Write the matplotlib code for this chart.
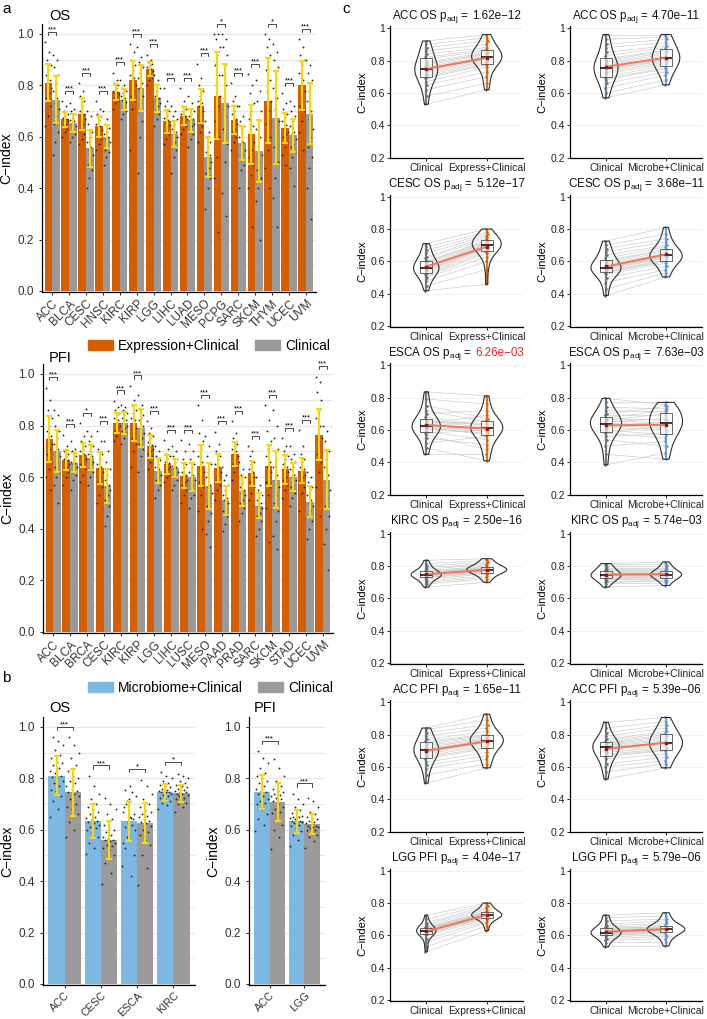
import numpy as np
import matplotlib
matplotlib.use("Agg")
import matplotlib.pyplot as plt
from matplotlib.patches import Patch
from matplotlib.offsetbox import TextArea, HPacker, AnchoredOffsetbox

plt.rcParams["font.family"] = ["Liberation Sans", "DejaVu Sans"]
plt.rcParams["mathtext.fontset"] = "custom"
plt.rcParams["mathtext.rm"] = "Liberation Sans"
plt.rcParams["mathtext.it"] = "Liberation Sans:italic"

# ---- Panel a: OS (expression + clinical vs clinical) ----
OS_CANCERS = ["ACC", "BLCA", "CESC", "HNSC", "KIRC", "KIRP", "LGG", "LIHC",
              "LUAD", "MESO", "PCPG", "SARC", "SKCM", "THYM", "UCEC", "UVM"]
OS_EXPR_MEAN = [0.81, 0.668, 0.69, 0.64, 0.775, 0.82, 0.865, 0.66,
                0.68, 0.72, 0.76, 0.665, 0.61, 0.74, 0.635, 0.80]
OS_EXPR_SD = [0.072, 0.03, 0.062, 0.042, 0.032, 0.075, 0.027, 0.045,
              0.035, 0.065, 0.17, 0.053, 0.115, 0.165, 0.058, 0.095]
OS_CLIN_MEAN = [0.745, 0.655, 0.555, 0.60, 0.745, 0.79, 0.75, 0.61,
                0.665, 0.52, 0.73, 0.575, 0.545, 0.675, 0.605, 0.69]
OS_CLIN_SD = [0.09, 0.035, 0.072, 0.045, 0.042, 0.09, 0.052, 0.05,
              0.045, 0.078, 0.155, 0.065, 0.12, 0.18, 0.065, 0.12]
OS_SIG = ["***", "***", "***", "***", "***", "***", "***", "***",
          "***", "***", "*", "***", "***", "*", "***", "***"]
# per-cancer C-index of repeated runs (subset)
OS_EXPR_RUNS = [
    [0.967, 0.93, 0.90, 0.88, 0.86, 0.84, 0.82, 0.81, 0.79, 0.77, 0.75, 0.72, 0.68, 0.64],
    [0.74, 0.72, 0.70, 0.69, 0.68, 0.675, 0.67, 0.665, 0.66, 0.65, 0.64, 0.63, 0.62, 0.60],
    [0.81, 0.78, 0.76, 0.74, 0.72, 0.70, 0.69, 0.68, 0.67, 0.65, 0.63, 0.61, 0.59, 0.57],
    [0.74, 0.71, 0.69, 0.68, 0.665, 0.65, 0.64, 0.635, 0.625, 0.61, 0.60, 0.59, 0.57, 0.55],
    [0.85, 0.82, 0.81, 0.80, 0.79, 0.78, 0.775, 0.77, 0.765, 0.76, 0.75, 0.74, 0.73, 0.71],
    [0.96, 0.93, 0.90, 0.88, 0.86, 0.84, 0.83, 0.82, 0.80, 0.78, 0.76, 0.74, 0.71, 0.55],
    [0.92, 0.90, 0.89, 0.885, 0.88, 0.87, 0.865, 0.86, 0.855, 0.85, 0.84, 0.83, 0.82, 0.80],
    [0.79, 0.74, 0.72, 0.70, 0.69, 0.675, 0.665, 0.655, 0.645, 0.63, 0.62, 0.61, 0.59, 0.57],
    [0.79, 0.74, 0.72, 0.71, 0.70, 0.69, 0.68, 0.675, 0.67, 0.66, 0.65, 0.64, 0.63, 0.61],
    [0.885, 0.83, 0.80, 0.78, 0.76, 0.74, 0.73, 0.72, 0.70, 0.68, 0.66, 0.64, 0.62, 0.58],
    [1.0, 1.0, 0.98, 0.95, 0.92, 0.88, 0.84, 0.80, 0.76, 0.72, 0.66, 0.60, 0.52, 0.44, 0.23],
    [0.81, 0.76, 0.74, 0.72, 0.70, 0.69, 0.67, 0.66, 0.65, 0.63, 0.62, 0.60, 0.58, 0.55],
    [0.845, 0.80, 0.77, 0.73, 0.70, 0.67, 0.64, 0.61, 0.58, 0.55, 0.52, 0.49, 0.45, 0.40, 0.25],
    [1.0, 0.98, 0.95, 0.92, 0.89, 0.86, 0.82, 0.78, 0.74, 0.70, 0.65, 0.60, 0.55, 0.48, 0.40],
    [0.77, 0.73, 0.71, 0.69, 0.68, 0.66, 0.645, 0.635, 0.62, 0.61, 0.60, 0.58, 0.56, 0.53, 0.49],
    [0.98, 0.95, 0.92, 0.90, 0.88, 0.85, 0.82, 0.80, 0.78, 0.75, 0.72, 0.70, 0.66, 0.62, 0.55],
]
OS_CLIN_RUNS = [
    [0.92, 0.90, 0.87, 0.84, 0.81, 0.78, 0.75, 0.73, 0.71, 0.68, 0.65, 0.62, 0.58, 0.53],
    [0.73, 0.71, 0.70, 0.69, 0.675, 0.665, 0.66, 0.65, 0.64, 0.63, 0.62, 0.61, 0.60, 0.58],
    [0.70, 0.68, 0.65, 0.62, 0.60, 0.58, 0.56, 0.55, 0.53, 0.51, 0.49, 0.47, 0.44, 0.40],
    [0.70, 0.67, 0.65, 0.635, 0.62, 0.61, 0.60, 0.59, 0.58, 0.565, 0.55, 0.54, 0.52, 0.49],
    [0.82, 0.80, 0.79, 0.78, 0.77, 0.76, 0.75, 0.745, 0.735, 0.72, 0.71, 0.70, 0.69, 0.67],
    [0.95, 0.91, 0.89, 0.87, 0.85, 0.83, 0.81, 0.79, 0.76, 0.73, 0.70, 0.66, 0.60, 0.46],
    [0.84, 0.82, 0.80, 0.79, 0.78, 0.76, 0.75, 0.74, 0.73, 0.72, 0.70, 0.69, 0.67, 0.64],
    [0.72, 0.70, 0.68, 0.67, 0.65, 0.63, 0.62, 0.61, 0.60, 0.58, 0.56, 0.55, 0.52, 0.46],
    [0.76, 0.73, 0.71, 0.70, 0.69, 0.68, 0.67, 0.66, 0.65, 0.64, 0.62, 0.61, 0.59, 0.56],
    [0.66, 0.62, 0.60, 0.58, 0.56, 0.54, 0.53, 0.52, 0.50, 0.48, 0.46, 0.44, 0.40, 0.32],
    [1.0, 0.98, 0.95, 0.92, 0.88, 0.84, 0.80, 0.75, 0.72, 0.68, 0.63, 0.57, 0.50, 0.38, 0.29],
    [0.72, 0.68, 0.66, 0.64, 0.62, 0.60, 0.58, 0.57, 0.55, 0.53, 0.51, 0.49, 0.47, 0.40],
    [0.82, 0.78, 0.74, 0.70, 0.66, 0.63, 0.60, 0.56, 0.53, 0.50, 0.47, 0.44, 0.40, 0.35, 0.20],
    [0.96, 0.93, 0.90, 0.87, 0.83, 0.79, 0.75, 0.71, 0.66, 0.61, 0.56, 0.50, 0.44, 0.36, 0.25],
    [0.74, 0.72, 0.70, 0.68, 0.66, 0.64, 0.62, 0.61, 0.59, 0.57, 0.56, 0.54, 0.52, 0.48, 0.41],
    [0.90, 0.88, 0.85, 0.82, 0.78, 0.74, 0.70, 0.67, 0.63, 0.60, 0.56, 0.52, 0.48, 0.40, 0.28],
]

# ---- Panel a: PFI ----
PFI_CANCERS = ["ACC", "BLCA", "BRCA", "CESC", "KIRC", "KIRP", "LGG", "LIHC", "LUSC",
               "MESO", "PAAD", "PRAD", "SARC", "SKCM", "STAD", "UCEC", "UVM"]
PFI_EXPR_MEAN = [0.748, 0.665, 0.685, 0.635, 0.81, 0.81, 0.72, 0.65, 0.605,
                 0.645, 0.635, 0.69, 0.615, 0.645, 0.63, 0.625, 0.765]
PFI_EXPR_SD = [0.09, 0.039, 0.046, 0.062, 0.039, 0.07, 0.044, 0.036, 0.048,
               0.08, 0.053, 0.046, 0.049, 0.078, 0.056, 0.049, 0.10]
PFI_CLIN_MEAN = [0.70, 0.655, 0.675, 0.565, 0.81, 0.79, 0.625, 0.635, 0.60,
                 0.565, 0.51, 0.545, 0.49, 0.59, 0.60, 0.505, 0.59]
PFI_CLIN_SD = [0.082, 0.037, 0.049, 0.066, 0.042, 0.073, 0.049, 0.036, 0.055,
               0.088, 0.055, 0.055, 0.048, 0.11, 0.053, 0.06, 0.115]
PFI_SIG = ["***", "***", "*", "***", "***", "***", "***", "***", "***",
           "***", "***", "***", "***", "***", "***", "***", "***"]
PFI_EXPR_RUNS = [
    [0.947, 0.90, 0.86, 0.83, 0.80, 0.78, 0.76, 0.75, 0.73, 0.71, 0.69, 0.66, 0.63, 0.60, 0.55],
    [0.765, 0.72, 0.70, 0.69, 0.68, 0.67, 0.665, 0.66, 0.65, 0.64, 0.63, 0.62, 0.60, 0.57],
    [0.81, 0.76, 0.74, 0.72, 0.71, 0.70, 0.69, 0.68, 0.67, 0.66, 0.65, 0.63, 0.61, 0.58],
    [0.778, 0.74, 0.71, 0.69, 0.67, 0.65, 0.64, 0.63, 0.62, 0.60, 0.58, 0.56, 0.53, 0.50],
    [0.896, 0.87, 0.86, 0.85, 0.84, 0.83, 0.82, 0.81, 0.80, 0.79, 0.78, 0.77, 0.76, 0.74],
    [0.954, 0.90, 0.88, 0.86, 0.85, 0.83, 0.82, 0.81, 0.79, 0.77, 0.75, 0.73, 0.70, 0.64],
    [0.817, 0.79, 0.77, 0.76, 0.75, 0.735, 0.725, 0.72, 0.71, 0.70, 0.69, 0.68, 0.66, 0.63],
    [0.743, 0.71, 0.69, 0.68, 0.67, 0.66, 0.655, 0.65, 0.64, 0.63, 0.62, 0.61, 0.60, 0.58],
    [0.743, 0.70, 0.67, 0.65, 0.64, 0.62, 0.61, 0.60, 0.59, 0.58, 0.57, 0.55, 0.53, 0.50],
    [0.88, 0.82, 0.77, 0.74, 0.71, 0.68, 0.66, 0.64, 0.62, 0.60, 0.58, 0.56, 0.53, 0.47, 0.40],
    [0.776, 0.73, 0.70, 0.68, 0.67, 0.65, 0.64, 0.63, 0.62, 0.61, 0.59, 0.57, 0.55, 0.51],
    [0.817, 0.77, 0.75, 0.73, 0.72, 0.71, 0.70, 0.69, 0.68, 0.67, 0.65, 0.64, 0.62, 0.59],
    [0.721, 0.70, 0.68, 0.66, 0.65, 0.63, 0.62, 0.61, 0.60, 0.59, 0.58, 0.56, 0.54, 0.51],
    [0.88, 0.82, 0.78, 0.74, 0.71, 0.68, 0.66, 0.64, 0.62, 0.60, 0.58, 0.56, 0.53, 0.48, 0.35],
    [0.75, 0.72, 0.70, 0.68, 0.67, 0.65, 0.64, 0.63, 0.62, 0.60, 0.59, 0.57, 0.55, 0.52],
    [0.782, 0.72, 0.69, 0.67, 0.66, 0.64, 0.63, 0.62, 0.61, 0.60, 0.58, 0.56, 0.54, 0.47],
    [0.99, 0.97, 0.93, 0.90, 0.86, 0.83, 0.80, 0.77, 0.75, 0.72, 0.69, 0.66, 0.62, 0.56, 0.45],
]
PFI_CLIN_RUNS = [
    [0.86, 0.84, 0.80, 0.78, 0.75, 0.73, 0.71, 0.70, 0.68, 0.66, 0.64, 0.62, 0.60, 0.57, 0.50],
    [0.74, 0.71, 0.70, 0.68, 0.67, 0.66, 0.655, 0.65, 0.64, 0.63, 0.62, 0.61, 0.59, 0.55],
    [0.78, 0.76, 0.74, 0.72, 0.70, 0.69, 0.68, 0.67, 0.66, 0.65, 0.63, 0.62, 0.60, 0.57],
    [0.74, 0.70, 0.66, 0.63, 0.61, 0.59, 0.57, 0.56, 0.55, 0.53, 0.51, 0.49, 0.45, 0.41],
    [0.88, 0.87, 0.86, 0.85, 0.84, 0.83, 0.82, 0.81, 0.80, 0.79, 0.78, 0.77, 0.75, 0.73],
    [0.92, 0.88, 0.86, 0.84, 0.83, 0.82, 0.80, 0.79, 0.77, 0.75, 0.73, 0.71, 0.68, 0.62],
    [0.72, 0.70, 0.68, 0.665, 0.65, 0.64, 0.63, 0.62, 0.61, 0.60, 0.59, 0.57, 0.55, 0.52],
    [0.72, 0.70, 0.68, 0.67, 0.66, 0.645, 0.64, 0.635, 0.62, 0.61, 0.60, 0.59, 0.57, 0.55],
    [0.73, 0.70, 0.67, 0.65, 0.64, 0.62, 0.61, 0.60, 0.59, 0.57, 0.55, 0.53, 0.52, 0.48],
    [0.76, 0.72, 0.68, 0.65, 0.62, 0.60, 0.57, 0.56, 0.54, 0.52, 0.49, 0.46, 0.43, 0.38, 0.33],
    [0.64, 0.61, 0.59, 0.57, 0.55, 0.53, 0.52, 0.51, 0.50, 0.48, 0.47, 0.45, 0.42, 0.39],
    [0.66, 0.63, 0.61, 0.60, 0.58, 0.56, 0.55, 0.54, 0.53, 0.51, 0.50, 0.48, 0.46, 0.43],
    [0.60, 0.57, 0.55, 0.53, 0.52, 0.51, 0.50, 0.49, 0.48, 0.46, 0.45, 0.43, 0.40, 0.37],
    [0.86, 0.80, 0.75, 0.71, 0.67, 0.64, 0.61, 0.59, 0.56, 0.53, 0.50, 0.47, 0.43, 0.37, 0.32],
    [0.72, 0.69, 0.67, 0.66, 0.64, 0.63, 0.61, 0.60, 0.59, 0.57, 0.56, 0.54, 0.52, 0.49],
    [0.62, 0.60, 0.58, 0.56, 0.55, 0.53, 0.51, 0.50, 0.49, 0.47, 0.45, 0.43, 0.40, 0.36],
    [0.80, 0.78, 0.74, 0.70, 0.67, 0.64, 0.61, 0.58, 0.55, 0.52, 0.49, 0.45, 0.40, 0.34, 0.24],
]

# ---- Panel c: paired C-index per run (clinical vs model) ----
C_ACC_OS_CLIN_E = [0.53, 0.58, 0.62, 0.65, 0.67, 0.69, 0.70, 0.71, 0.72, 0.73, 0.74, 0.74,
                   0.75, 0.76, 0.77, 0.78, 0.79, 0.81, 0.82, 0.84, 0.86, 0.88, 0.90, 0.92]
C_ACC_OS_EXPR = [0.62, 0.66, 0.70, 0.73, 0.76, 0.775, 0.78, 0.79, 0.80, 0.81, 0.815, 0.82,
                 0.825, 0.83, 0.84, 0.845, 0.85, 0.86, 0.87, 0.88, 0.90, 0.92, 0.94, 0.96]
C_ACC_OS_CLIN_M = [0.57, 0.60, 0.63, 0.66, 0.68, 0.69, 0.70, 0.72, 0.73, 0.74, 0.745, 0.75,
                   0.76, 0.77, 0.78, 0.79, 0.80, 0.81, 0.83, 0.85, 0.88, 0.90, 0.93, 0.96]
C_ACC_OS_MIC = [0.65, 0.68, 0.71, 0.73, 0.75, 0.755, 0.77, 0.78, 0.79, 0.80, 0.805, 0.81,
                0.82, 0.83, 0.84, 0.85, 0.86, 0.865, 0.88, 0.89, 0.91, 0.93, 0.945, 0.96]
C_CESC_OS_CLIN_E = [0.42, 0.45, 0.48, 0.50, 0.51, 0.52, 0.53, 0.54, 0.545, 0.55, 0.56, 0.56,
                    0.565, 0.57, 0.58, 0.59, 0.60, 0.60, 0.62, 0.63, 0.65, 0.67, 0.69, 0.71]
C_CESC_OS_EXPR = [0.46, 0.55, 0.60, 0.63, 0.65, 0.66, 0.67, 0.68, 0.685, 0.69, 0.70, 0.70,
                  0.705, 0.71, 0.715, 0.72, 0.725, 0.73, 0.74, 0.75, 0.76, 0.77, 0.78, 0.80]
C_CESC_OS_CLIN_M = [0.39, 0.43, 0.47, 0.50, 0.52, 0.53, 0.535, 0.54, 0.55, 0.555, 0.56, 0.56,
                    0.565, 0.57, 0.58, 0.59, 0.60, 0.605, 0.62, 0.64, 0.66, 0.68, 0.70, 0.725]
C_CESC_OS_MIC = [0.505, 0.53, 0.55, 0.57, 0.59, 0.60, 0.605, 0.61, 0.62, 0.625, 0.63, 0.635,
                 0.64, 0.645, 0.65, 0.66, 0.67, 0.675, 0.69, 0.70, 0.72, 0.74, 0.77, 0.81]
C_ESCA_OS_CLIN_E = [0.45, 0.49, 0.52, 0.55, 0.57, 0.58, 0.59, 0.60, 0.61, 0.615, 0.62, 0.62,
                    0.625, 0.63, 0.64, 0.65, 0.655, 0.66, 0.68, 0.70, 0.72, 0.75, 0.79, 0.835]
C_ESCA_OS_EXPR = [0.45, 0.41, 0.56, 0.51, 0.48, 0.60, 0.54, 0.62, 0.58, 0.57, 0.66, 0.59,
                  0.61, 0.605, 0.69, 0.64, 0.615, 0.63, 0.625, 0.72, 0.65, 0.67, 0.76, 0.81]
C_ESCA_OS_CLIN_M = [0.385, 0.45, 0.50, 0.54, 0.56, 0.58, 0.59, 0.60, 0.615, 0.625, 0.63, 0.635,
                    0.64, 0.65, 0.655, 0.66, 0.67, 0.675, 0.69, 0.70, 0.72, 0.74, 0.77, 0.795]
C_ESCA_OS_MIC = [0.46, 0.42, 0.53, 0.50, 0.58, 0.55, 0.62, 0.57, 0.60, 0.65, 0.61, 0.64,
                 0.63, 0.67, 0.645, 0.70, 0.66, 0.72, 0.69, 0.745, 0.71, 0.73, 0.77, 0.755]
C_KIRC_OS_CLIN_E = [0.67, 0.69, 0.70, 0.71, 0.72, 0.73, 0.73, 0.735, 0.74, 0.74, 0.745, 0.745,
                    0.75, 0.75, 0.755, 0.76, 0.76, 0.765, 0.77, 0.78, 0.79, 0.80, 0.815, 0.835]
C_KIRC_OS_EXPR = [0.70, 0.72, 0.73, 0.74, 0.75, 0.755, 0.76, 0.765, 0.77, 0.77, 0.775, 0.775,
                  0.78, 0.78, 0.785, 0.79, 0.79, 0.795, 0.80, 0.81, 0.815, 0.825, 0.835, 0.845]
C_KIRC_OS_CLIN_M = [0.67, 0.69, 0.70, 0.705, 0.715, 0.72, 0.725, 0.73, 0.735, 0.74, 0.74, 0.745,
                    0.745, 0.75, 0.755, 0.76, 0.765, 0.77, 0.775, 0.78, 0.79, 0.80, 0.81, 0.815]
C_KIRC_OS_MIC = [0.68, 0.695, 0.705, 0.71, 0.72, 0.725, 0.73, 0.735, 0.74, 0.745, 0.745, 0.745,
                 0.75, 0.75, 0.755, 0.76, 0.765, 0.77, 0.775, 0.78, 0.79, 0.80, 0.81, 0.825]
C_ACC_PFI_CLIN_E = [0.50, 0.55, 0.59, 0.61, 0.63, 0.65, 0.66, 0.67, 0.68, 0.69, 0.695, 0.70,
                    0.705, 0.71, 0.72, 0.73, 0.74, 0.75, 0.76, 0.77, 0.79, 0.81, 0.83, 0.84]
C_ACC_PFI_EXPR = [0.595, 0.62, 0.65, 0.67, 0.69, 0.715, 0.72, 0.73, 0.74, 0.75, 0.755, 0.76,
                  0.765, 0.77, 0.775, 0.78, 0.79, 0.795, 0.80, 0.82, 0.84, 0.86, 0.89, 0.925]
C_ACC_PFI_CLIN_M = [0.525, 0.57, 0.60, 0.62, 0.65, 0.665, 0.67, 0.68, 0.69, 0.70, 0.71, 0.72,
                    0.725, 0.73, 0.735, 0.74, 0.745, 0.75, 0.76, 0.77, 0.79, 0.81, 0.84, 0.875]
C_ACC_PFI_MIC = [0.595, 0.62, 0.64, 0.66, 0.68, 0.70, 0.705, 0.71, 0.72, 0.73, 0.74, 0.745,
                 0.75, 0.76, 0.77, 0.78, 0.79, 0.80, 0.81, 0.82, 0.84, 0.86, 0.88, 0.905]
C_LGG_PFI_CLIN_E = [0.50, 0.53, 0.56, 0.58, 0.60, 0.61, 0.61, 0.615, 0.62, 0.62, 0.625, 0.625,
                    0.63, 0.63, 0.635, 0.64, 0.64, 0.645, 0.65, 0.66, 0.67, 0.68, 0.70, 0.725]
C_LGG_PFI_EXPR = [0.63, 0.66, 0.68, 0.69, 0.70, 0.71, 0.71, 0.715, 0.72, 0.72, 0.725, 0.725,
                  0.73, 0.73, 0.735, 0.74, 0.74, 0.745, 0.75, 0.76, 0.77, 0.78, 0.79, 0.80]
C_LGG_PFI_CLIN_M = [0.53, 0.555, 0.57, 0.58, 0.59, 0.60, 0.60, 0.605, 0.61, 0.61, 0.615, 0.615,
                    0.62, 0.625, 0.63, 0.635, 0.64, 0.645, 0.65, 0.66, 0.67, 0.69, 0.71, 0.725]
C_LGG_PFI_MIC = [0.535, 0.56, 0.58, 0.595, 0.605, 0.615, 0.62, 0.625, 0.63, 0.63, 0.635, 0.635,
                 0.64, 0.645, 0.65, 0.65, 0.655, 0.655, 0.665, 0.675, 0.69, 0.70, 0.72, 0.74]

C_TITLES = ["ACC OS", "CESC OS", "ESCA OS", "KIRC OS", "ACC PFI", "LGG PFI"]
C_P_EXPR = ["1.62e\u221212", "5.12e\u221217", "6.26e\u221203", "2.50e\u221216", "1.65e\u221211", "4.04e\u221217"]
C_P_MIC = ["4.70e\u221211", "3.68e\u221211", "7.63e\u221203", "5.74e\u221203", "5.39e\u221206", "5.79e\u221206"]
C_P_EXPR_RED = [False, False, True, False, False, False]

# ---- Panel b: microbiome + clinical vs clinical ----
B_OS_CANCERS = ["ACC", "CESC", "ESCA", "KIRC"]
B_OS_MIC_MEAN = [0.81, 0.635, 0.632, 0.745]
B_OS_MIC_SD = [0.076, 0.066, 0.077, 0.034]
B_OS_CLIN_MEAN = [0.745, 0.56, 0.625, 0.742]
B_OS_CLIN_SD = [0.091, 0.075, 0.078, 0.033]
B_OS_SIG = ["***", "***", "*", "*"]
B_PFI_CANCERS = ["ACC", "LGG"]
B_PFI_MIC_MEAN = [0.745, 0.632]
B_PFI_MIC_SD = [0.066, 0.044]
B_PFI_CLIN_MEAN = [0.706, 0.622]
B_PFI_CLIN_SD = [0.074, 0.039]
B_PFI_SIG = ["***", "***"]
B_OS_MIC_RUNS = [C_ACC_OS_MIC, C_CESC_OS_MIC, C_ESCA_OS_MIC, C_KIRC_OS_MIC]
B_OS_CLIN_RUNS = [C_ACC_OS_CLIN_M, C_CESC_OS_CLIN_M, C_ESCA_OS_CLIN_M, C_KIRC_OS_CLIN_M]
B_PFI_MIC_RUNS = [C_ACC_PFI_MIC, C_LGG_PFI_MIC]
B_PFI_CLIN_RUNS = [C_ACC_PFI_CLIN_M, C_LGG_PFI_CLIN_M]

# ---- Style ----
ORANGE = "#D55E00"
GRAY = "#999999"
BLUE = "#7DB8E2"
GRAY_B = "#9C9A9A"
GOLD = "#FFD700"
DOT = "#262626"
TXT = "#333333"
W, H = 707, 1019

fig = plt.figure(figsize=(W / 100, H / 100), dpi=100)


def px_axes(x0, y0, x1, y1):
    # pixel box measured from the top-left corner
    return fig.add_axes([x0 / W, 1 - y1 / H, (x1 - x0) / W, (y1 - y0) / H])


def spread(n, width):
    return ((np.arange(n) * 0.6180339887) % 1.0 - 0.5) * width


def bar_panel(ax, cats, m1, s1, m2, s2, runs1, runs2, sig, c1, c2, xsize=8.5):
    n = len(cats)
    x = np.arange(1, n + 1)
    ax.bar(x - 0.225, m1, width=0.45, color=c1, zorder=2)
    ax.bar(x + 0.225, m2, width=0.45, color=c2, zorder=2)
    for i in range(n):
        for off, runs in ((-0.225, runs1[i]), (0.225, runs2[i])):
            ax.scatter(x[i] + off + spread(len(runs), 0.38), runs, s=1.8,
                       color=DOT, linewidths=0, zorder=3)
    for off, m, s in ((-0.225, m1, s1), (0.225, m2, s2)):
        ax.errorbar(x + off, m, yerr=s, fmt="none", ecolor=GOLD, elinewidth=1.5,
                    capsize=2.0, capthick=1.5, zorder=4)
    for i in range(n):
        top = max(max(runs1[i]), max(runs2[i])) + 0.04
        xa, xb = x[i] - 0.225, x[i] + 0.225
        ax.plot([xa, xa, xb, xb], [top - 0.012, top, top, top - 0.012],
                color="black", lw=0.5, zorder=5)
        ax.text(x[i], top + 0.002, sig[i], ha="center", va="baseline",
                fontsize=5.5, zorder=5)
    ax.set_xlim(0.4, n + 0.6)
    ax.set_ylim(-0.004, 1.04)
    ax.set_yticks(np.arange(0, 1.01, 0.2))
    ax.set_yticklabels(["0.0", "0.2", "0.4", "0.6", "0.8", "1.0"])
    ax.set_yticks(np.arange(0.1, 1.0, 0.2), minor=True)
    ax.grid(axis="y", which="both", color="#E8E8E8", lw=0.9, zorder=0)
    ax.set_axisbelow(True)
    ax.set_xticks(x)
    ax.set_xticklabels(cats, rotation=45, ha="right", va="top",
                       rotation_mode="anchor", fontsize=xsize, color=TXT)
    ax.tick_params(axis="y", labelsize=8.5, labelcolor=TXT, length=2.5, width=0.6)
    ax.tick_params(axis="x", length=2.5, width=0.6, pad=1.5)
    ax.tick_params(which="minor", length=0)
    for side in ("top", "right"):
        ax.spines[side].set_visible(False)
    for side in ("left", "bottom"):
        ax.spines[side].set_linewidth(0.9)
    ax.set_ylabel("C\u2212index", fontsize=10, labelpad=3)


def pair_panel(ax, clin, model, label, mcolor, widths, title, pval, pred):
    for a, b in zip(clin, model):
        ax.plot([1, 2], [a, b], color="#CACACA", lw=0.45, zorder=1)
    for pos, vals, col in ((1, clin, "#5D6A74"), (2, model, mcolor)):
        ax.vlines(pos, min(vals), max(vals), color=col, lw=1.6, alpha=0.85, zorder=2)
        ax.scatter(pos + spread(len(vals), 0.035), vals, s=3, color=col,
                   linewidths=0, zorder=2)
    vp = ax.violinplot([clin, model], positions=[1, 2], widths=widths,
                       showextrema=False)
    for body in vp["bodies"]:
        body.set_facecolor("none")
        body.set_edgecolor("#2E2E2E")
        body.set_linewidth(0.8)
        body.set_alpha(1)
        body.set_zorder(3)
    ax.boxplot([clin, model], positions=[1, 2], widths=0.2, patch_artist=True,
               showfliers=False, showcaps=False, whis=0, manage_ticks=False,
               boxprops=dict(facecolor=(1, 1, 1, 0.6), edgecolor="#4D4D4D", lw=0.6),
               whiskerprops=dict(lw=0), medianprops=dict(color="black", lw=1.1),
               zorder=4)
    means = [np.mean(clin), np.mean(model)]
    ax.plot([1, 2], means, color="#F47552", lw=1.4, zorder=5)
    ax.scatter([1, 2], means, marker="s", s=4, color="#A50F15", zorder=6)
    ax.set_xlim(0.4, 2.6)
    ax.set_ylim(0.198, 1.01)
    ax.set_yticks([0.2, 0.4, 0.6, 0.8, 1.0])
    ax.set_yticklabels(["0.2", "0.4", "0.6", "0.8", "1"])
    ax.set_xticks([1, 2])
    ax.set_xticklabels(["Clinical", label], fontsize=7.5, color="#222222")
    ax.tick_params(axis="y", labelsize=7.5, labelcolor="#222222", length=2, width=0.6, pad=1.5)
    ax.tick_params(axis="x", length=2, width=0.6, pad=1.5)
    ax.grid(axis="y", color="#EEEEEE", lw=0.6, zorder=0)
    ax.set_axisbelow(True)
    for side in ("top", "right"):
        ax.spines[side].set_visible(False)
    for side in ("left", "bottom"):
        ax.spines[side].set_linewidth(0.9)
    ax.set_ylabel("C\u2212index", fontsize=8, labelpad=2)
    parts = [TextArea(title + r" $\mathrm{p_{adj}}$ =",
                      textprops=dict(fontsize=8.4, color="#111111")),
             TextArea(pval, textprops=dict(fontsize=8.4,
                                           color="#E8262A" if pred else "#111111"))]
    box = HPacker(children=parts, align="baseline", pad=0, sep=2.4)
    ab = AnchoredOffsetbox(loc="lower center", child=box, pad=0, borderpad=0,
                           frameon=False, bbox_to_anchor=(0.5, 1.012),
                           bbox_transform=ax.transAxes)
    ax.add_artist(ab)


# ---- Panel a ----
ax_os = px_axes(42, 23.7, 316, 292)
bar_panel(ax_os, OS_CANCERS, OS_EXPR_MEAN, OS_EXPR_SD, OS_CLIN_MEAN, OS_CLIN_SD,
          OS_EXPR_RUNS, OS_CLIN_RUNS, OS_SIG, ORANGE, GRAY)
ax_pfi = px_axes(43, 363.6, 333, 633)
bar_panel(ax_pfi, PFI_CANCERS, PFI_EXPR_MEAN, PFI_EXPR_SD, PFI_CLIN_MEAN, PFI_CLIN_SD,
          PFI_EXPR_RUNS, PFI_CLIN_RUNS, PFI_SIG, ORANGE, GRAY)
fig.legend(handles=[Patch(color=ORANGE), Patch(color=GRAY)],
           labels=["Expression+Clinical", "Clinical"], loc="center",
           bbox_to_anchor=(209 / W, 1 - 346 / H), ncol=2, frameon=False, fontsize=10,
           handlelength=1.8, handleheight=0.65, handletextpad=0.36,
           columnspacing=1.15, borderaxespad=0, borderpad=0)

# ---- Panel b ----
ax_bos = px_axes(43, 716.6, 195, 985)
bar_panel(ax_bos, B_OS_CANCERS, B_OS_MIC_MEAN, B_OS_MIC_SD, B_OS_CLIN_MEAN, B_OS_CLIN_SD,
          B_OS_MIC_RUNS, B_OS_CLIN_RUNS, B_OS_SIG, BLUE, GRAY_B, xsize=7.8)
ax_bpfi = px_axes(249, 716.6, 325, 985)
bar_panel(ax_bpfi, B_PFI_CANCERS, B_PFI_MIC_MEAN, B_PFI_MIC_SD, B_PFI_CLIN_MEAN,
          B_PFI_CLIN_SD, B_PFI_MIC_RUNS, B_PFI_CLIN_RUNS, B_PFI_SIG, BLUE, GRAY_B,
          xsize=7.8)
fig.legend(handles=[Patch(color=BLUE), Patch(color=GRAY_B)],
           labels=["Microbiome+Clinical", "Clinical"], loc="center",
           bbox_to_anchor=(210.5 / W, 1 - 688 / H), ncol=2, frameon=False, fontsize=10,
           handlelength=1.8, handleheight=0.65, handletextpad=0.36,
           columnspacing=1.15, borderaxespad=0, borderpad=0)

# ---- Panel c ----
expr_sets = [(C_ACC_OS_CLIN_E, C_ACC_OS_EXPR), (C_CESC_OS_CLIN_E, C_CESC_OS_EXPR),
             (C_ESCA_OS_CLIN_E, C_ESCA_OS_EXPR), (C_KIRC_OS_CLIN_E, C_KIRC_OS_EXPR),
             (C_ACC_PFI_CLIN_E, C_ACC_PFI_EXPR), (C_LGG_PFI_CLIN_E, C_LGG_PFI_EXPR)]
mic_sets = [(C_ACC_OS_CLIN_M, C_ACC_OS_MIC), (C_CESC_OS_CLIN_M, C_CESC_OS_MIC),
            (C_ESCA_OS_CLIN_M, C_ESCA_OS_MIC), (C_KIRC_OS_CLIN_M, C_KIRC_OS_MIC),
            (C_ACC_PFI_CLIN_M, C_ACC_PFI_MIC), (C_LGG_PFI_CLIN_M, C_LGG_PFI_MIC)]
expr_widths = [(0.38, 0.50), (0.42, 0.48), (0.47, 0.53), (0.50, 0.66), (0.41, 0.55), (0.32, 0.50)]
mic_widths = [(0.40, 0.46), (0.50, 0.54), (0.52, 0.55), (0.50, 0.52), (0.44, 0.55), (0.50, 0.63)]
for r in range(6):
    top, bot = 26.4 + 168.5 * r, 158.3 + 168.5 * r
    ax_l = px_axes(390, top, 523, bot)
    pair_panel(ax_l, expr_sets[r][0], expr_sets[r][1], "Express+Clinical", ORANGE,
               expr_widths[r], C_TITLES[r], C_P_EXPR[r], C_P_EXPR_RED[r])
    ax_r = px_axes(570, top, 702, bot)
    pair_panel(ax_r, mic_sets[r][0], mic_sets[r][1], "Microbe+Clinical", "#5B8ED6",
               mic_widths[r], C_TITLES[r], C_P_MIC[r], False)

# ---- Titles and panel letters ----
for txt, x, y in (("OS", 49, 20), ("PFI", 49, 362), ("OS", 49, 712), ("PFI", 254, 712)):
    fig.text(x / W, 1 - y / H, txt, fontsize=10.5, va="baseline", ha="left")
for txt, x, y in (("a", 2, 2), ("b", 2, 671), ("c", 342, 2)):
    fig.text(x / W, 1 - y / H, txt, fontsize=11, va="top", ha="left")

fig.savefig("out.png", dpi=100)
